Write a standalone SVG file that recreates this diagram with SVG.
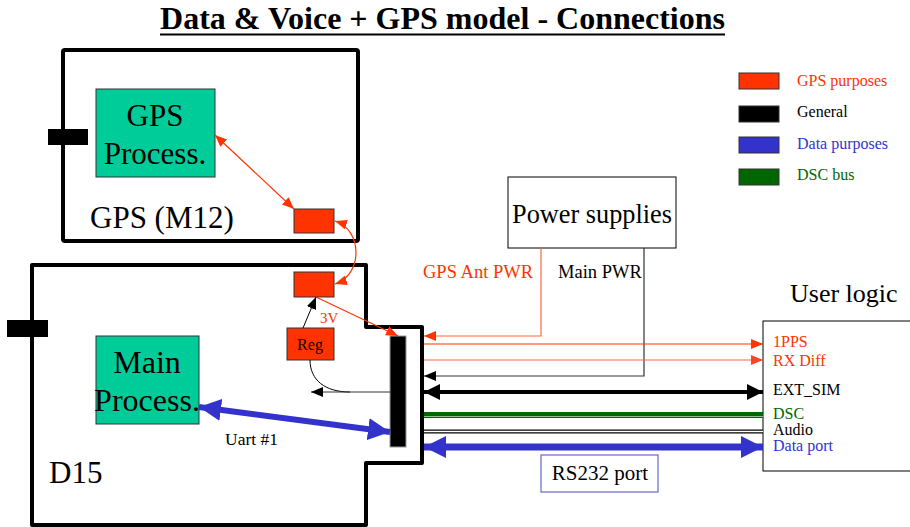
<svg xmlns="http://www.w3.org/2000/svg" width="910" height="527" viewBox="0 0 910 527" font-family="'Liberation Serif', 'Times New Roman', serif">
<defs>
<style>
.box{fill:none;stroke:#000;stroke-width:4;stroke-linejoin:round;}
.proc{fill:#00CC99;stroke:#333;stroke-width:1;}
.redbox{fill:#FF3300;stroke:#333;stroke-width:1;}
.thinred{fill:none;stroke:#FF3300;stroke-width:1.2;}
.lightred{fill:none;stroke:#FF6644;stroke-width:1.2;}
.red{fill:#FF3300;}
.blue{fill:#3333CC;}
.green{fill:#006600;}
</style>
<marker id="ar" markerUnits="userSpaceOnUse" markerWidth="12" markerHeight="10" refX="12" refY="5" orient="auto-start-reverse"><path d="M0,0 L12,5 L0,10 z" fill="#FF3300"/></marker>
<marker id="arl" markerUnits="userSpaceOnUse" markerWidth="12" markerHeight="10" refX="12" refY="5" orient="auto-start-reverse"><path d="M0,0 L12,5 L0,10 z" fill="#FF4422"/></marker>
<marker id="ab" markerUnits="userSpaceOnUse" markerWidth="12" markerHeight="10" refX="12" refY="5" orient="auto-start-reverse"><path d="M0,0 L12,5 L0,10 z" fill="#000"/></marker>
<marker id="abig" markerUnits="userSpaceOnUse" markerWidth="16" markerHeight="16" refX="16" refY="8" orient="auto-start-reverse"><path d="M0,0 L16,8 L0,16 z" fill="#000"/></marker>
<marker id="bbig" markerUnits="userSpaceOnUse" markerWidth="22" markerHeight="22" refX="22" refY="11" orient="auto-start-reverse"><path d="M0,0 L22,11 L0,22 z" fill="#3333CC"/></marker>
</defs>
<rect width="910" height="527" fill="#fff"/>

<g id="title">
<text x="442.5" y="29" font-size="32" font-weight="bold" text-anchor="middle">Data &amp; Voice + GPS model - Connections</text>
<line x1="160" y1="34.5" x2="725" y2="34.5" stroke="#000" stroke-width="2"/>
</g>

<g id="legend" font-size="16">
<rect x="739" y="73" width="40" height="16" class="redbox"/>
<text x="797" y="86" class="red">GPS purposes</text>
<rect x="739" y="106" width="40" height="16" fill="#000" stroke="#333"/>
<text x="797" y="117">General</text>
<rect x="739" y="137" width="40" height="16" fill="#3333CC" stroke="#333"/>
<text x="797" y="149" class="blue">Data purposes</text>
<rect x="739" y="169" width="40" height="16" fill="#006600" stroke="#333"/>
<text x="797" y="180" class="green">DSC bus</text>
</g>

<g id="gps_m12">
<rect x="63" y="50" width="295" height="191" rx="2" class="box"/>
<rect x="48" y="129" width="40" height="16" fill="#000"/>
<text x="90" y="228" font-size="31">GPS (M12)</text>
</g>
<g id="gps_process">
<rect x="96" y="89" width="119" height="88" class="proc"/>
<text x="155" y="126" font-size="31" text-anchor="middle">GPS</text>
<text x="155" y="164" font-size="31" text-anchor="middle">Process.</text>
</g>
<g id="gps_port">
<rect x="294" y="209" width="40" height="24" class="redbox"/>
</g>

<g id="d15">
<path d="M32,265 H366 V327 H422 V463 H366 V525 H32 Z" class="box"/>
<rect x="7" y="320" width="41" height="17" fill="#000"/>
<text x="49" y="483" font-size="31">D15</text>
</g>
<g id="main_process">
<rect x="96" y="336" width="103" height="88" class="proc"/>
<text x="147" y="373" font-size="32" text-anchor="middle">Main</text>
<text x="147" y="411" font-size="32" text-anchor="middle">Process.</text>
</g>
<g id="d15_port">
<rect x="294" y="272" width="40" height="25" class="redbox"/>
</g>
<g id="reg">
<rect x="287" y="328" width="47" height="32" class="redbox"/>
<text x="310" y="350" font-size="16" text-anchor="middle">Reg</text>
</g>
<g id="bus_connector">
<rect x="390" y="336" width="16" height="111" fill="#000" stroke="#999" stroke-width="1"/>
</g>
<g id="power_supplies">
<rect x="508" y="177" width="168" height="71" fill="#fff" stroke="#000" stroke-width="1"/>
<text x="592" y="223" font-size="26.3" text-anchor="middle">Power supplies</text>
</g>
<g id="user_logic">
<rect x="763" y="321" width="160" height="150" fill="#fff" stroke="#000" stroke-width="1"/>
<text x="790" y="302" font-size="26">User logic</text>
<text x="773" y="347" font-size="16" class="red">1PPS</text>
<text x="773" y="366" font-size="16" class="red">RX Diff</text>
<text x="773" y="395" font-size="16">EXT_SIM</text>
<text x="773" y="419" font-size="16" class="green">DSC</text>
<text x="773" y="435" font-size="16">Audio</text>
<text x="773" y="451" font-size="16" class="blue">Data port</text>
</g>
<g id="rs232">
<rect x="541" y="455" width="117" height="37" fill="#fff" stroke="#6666CC" stroke-width="1.2"/>
<text x="600" y="480" font-size="21" text-anchor="middle">RS232 port</text>
</g>

<g id="connectors">
<path d="M215,135 L294,209" class="thinred" marker-start="url(#ar)" marker-end="url(#ar)"/>
<path d="M335,221 C363,230 363,275 335,284" class="thinred" marker-start="url(#ar)" marker-end="url(#ar)"/>
<path d="M316,297 L398,336" class="thinred" marker-end="url(#ar)"/>
<text x="320" y="323" font-size="15" class="red">3V</text>
<path d="M303,328 L316,297" stroke="#000" stroke-width="1" fill="none" marker-end="url(#ab)"/>
<path d="M310,360 C310,380 325,392 350,392" stroke="#000" stroke-width="1" fill="none"/>
<path d="M390,392 H311" stroke="#333" stroke-width="1" fill="none" marker-end="url(#ab)"/>
<path d="M199,407 L390,432" stroke="#3333CC" stroke-width="6" fill="none" marker-start="url(#bbig)" marker-end="url(#bbig)"/>
<text x="225" y="445" font-size="17.5">Uart #1</text>

<path d="M541,248 V336 H424" class="lightred" marker-end="url(#ar)"/>
<text x="423" y="278" font-size="18.5" class="red">GPS Ant PWR</text>
<path d="M644,248 V376 H424" stroke="#333" stroke-width="1.2" fill="none" marker-end="url(#ab)"/>
<text x="558" y="278" font-size="18.5">Main PWR</text>
<path d="M424,344 H763" class="thinred" marker-end="url(#ar)"/>
<path d="M424,360 H763" class="lightred" marker-end="url(#arl)"/>
<path d="M424,392 H763" stroke="#000" stroke-width="4" fill="none" marker-start="url(#abig)" marker-end="url(#abig)"/>
<line x1="424" y1="415" x2="763" y2="415" stroke="#006600" stroke-width="6"/>
<line x1="424" y1="416.5" x2="763" y2="416.5" stroke="#8fbf8f" stroke-width="1"/>
<line x1="424" y1="431.5" x2="763" y2="431.5" stroke="#000" stroke-width="4"/>
<line x1="424" y1="431.5" x2="763" y2="431.5" stroke="#fff" stroke-width="1.5"/>
<path d="M424,447 H763" stroke="#3333CC" stroke-width="7" fill="none" marker-start="url(#bbig)" marker-end="url(#bbig)"/>
</g>
</svg>
